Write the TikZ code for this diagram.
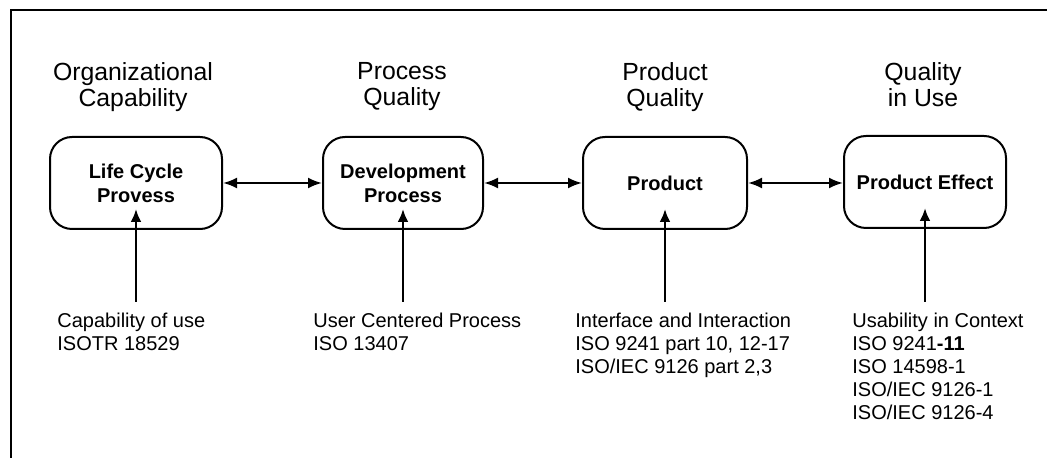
\documentclass[tikz,border=0pt]{standalone}
\usepackage{fontspec}
\setmainfont{Liberation Sans}
\usetikzlibrary{arrows.meta}
\begin{document}
\begin{tikzpicture}[x=0.5pt,y=-0.5pt,
  box/.style={draw, line width=1pt, rounded corners=11pt, minimum height=46pt,
    align=center, inner sep=0pt, font=\fontsize{10}{12}\selectfont\bfseries},
  title/.style={align=center, anchor=north, inner sep=0pt,
    font=\fontsize{12.4}{13}\selectfont},
  std/.style={align=left, anchor=north west, inner sep=0pt,
    font=\fontsize{10}{11.5}\selectfont},
  link/.style={line width=1.1pt, {Latex[length=7pt,width=5.5pt]}-{Latex[length=7pt,width=5.5pt]}},
  feed/.style={line width=1.4pt, -{Latex[length=6.5pt,width=5.5pt]}},
  frameline/.style={line width=1pt}]
\useasboundingbox (0,0) rectangle (1047,458);

% frame (only top and left edges visible)
\coordinate (fa) at (1047,10);
\coordinate (fb) at (11,10);
\coordinate (fc) at (11,458);
\draw[frameline] (fa) -- (fb) -- (fc);

% titles
\node[title] (t1) at (133,62) {Organizational\\Capability};
\node[title] (t2) at (402,62) {Process\\Quality};
\node[title] (t3) at (665,62) {Product\\Quality};
\node[title] (t4) at (923,62) {Quality\\in Use};

% boxes
\node[box, minimum width=86pt] (b1) at (136,183) {Life Cycle\\Provess};
\node[box, minimum width=80pt] (b2) at (403,183) {Development\\Process};
\node[box, minimum width=82pt] (b3) at (665,183) {Product};
\node[box, minimum width=81pt] (b4) at (925,182) {Product Effect};

% horizontal links
\draw[link] (b1.east) -- (b2.west);
\draw[link] (b2.east) -- (b3.west);
\draw[link] (b3.east) -- (b3.east -| b4.west);

% bottom labels
\node[std] (l1) at (57,313) {Capability of use\\ISOTR 18529};
\node[std] (l2) at (313,313) {User Centered Process\\ISO 13407};
\node[std] (l3) at (575,313) {Interface and Interaction\\ISO 9241 part 10, 12-17\\ISO/IEC 9126 part 2,3};
\node[std] (l4) at (852,313) {Usability in Context\\ISO 9241\textbf{-11}\\ISO 14598-1\\ISO/IEC 9126-1\\ISO/IEC 9126-4};

% vertical feeds
\coordinate (s1) at (136,302);
\coordinate (s2) at (403,302);
\coordinate (s3) at (665,302);
\coordinate (s4) at (925,302);
\draw[feed] (s1) -- ([yshift=10.5pt]b1.south);
\draw[feed] (s2) -- ([yshift=10.5pt]b2.south);
\draw[feed] (s3) -- ([yshift=10.5pt]b3.south);
\draw[feed] (s4) -- ([yshift=10.5pt]b4.south);
\end{tikzpicture}
\end{document}
